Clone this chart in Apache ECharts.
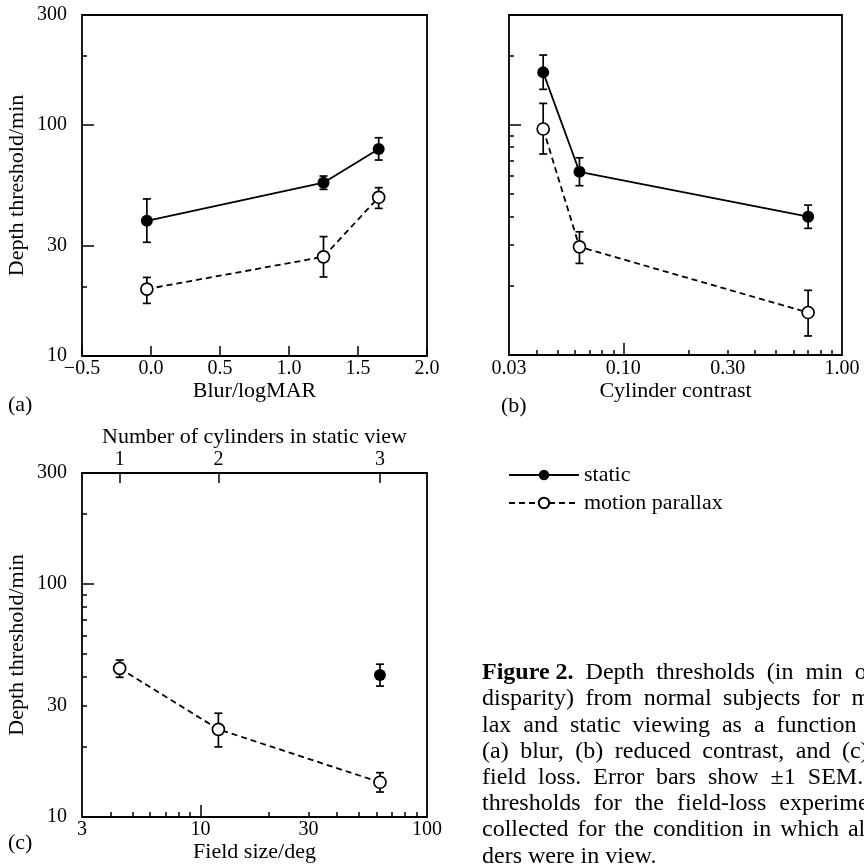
<!DOCTYPE html>
<html>
<head>
<meta charset="utf-8">
<script src="https://cdn.jsdelivr.net/npm/echarts@6/dist/echarts.min.js"></script>
<style>
  html, body { margin: 0; padding: 0; background: #fff; overflow: hidden; }
  #chart { width: 864px; height: 866px; }
</style>
</head>
<body>
<div id="chart"></div>
<script>
// (a) blur
const blurLevels = [-0.03, 1.25, 1.65];
const blurStatic = [38.5, 56.3, 78.8];
const blurStaticLow = [31.1, 52.7, 70.6];
const blurStaticHigh = [47.9, 60.2, 88.2];
const blurMotion = [19.5, 26.9, 48.7];
const blurMotionLow = [16.9, 22.0, 43.6];
const blurMotionHigh = [21.9, 32.9, 53.6];

// (b) contrast
const contrastLevels = [0.043, 0.063, 0.70];
const contrastStatic = [169, 62.5, 39.9];
const contrastStaticLow = [142.6, 54.4, 35.5];
const contrastStaticHigh = [201, 71.9, 44.8];
const contrastMotion = [95.9, 29.5, 15.3];
const contrastMotionLow = [74.7, 25.0, 12.1];
const contrastMotionHigh = [123.9, 34.3, 19.1];

// (c) field loss
const fieldSizes = [4.4, 12, 62];
const cylinderCounts = ['1', '2', '3'];
const fieldMotion = [43.5, 23.8, 14.1];
const fieldMotionLow = [39.8, 20.0, 12.8];
const fieldMotionHigh = [47.2, 27.9, 15.5];
const fieldStaticSizes = [62];
const fieldStatic = [40.7];
const fieldStaticLow = [36.5];
const fieldStaticHigh = [45.3];

// tick labels and tick marks
const thresholdLabels = [10, 30, 100, 300];
const blurMajorTicks = [30, 100];
const blurMinorTicks = [20, 200];
const thresholdMajorTicks = [100];
const thresholdMinorTicks = [20, 30, 40, 50, 60, 70, 80, 90, 200];
const contrastLabels = [0.03, 0.1, 0.3, 1];
const contrastMajorTicks = [0.1];
const contrastMinorTicks = [0.04, 0.05, 0.06, 0.07, 0.08, 0.09, 0.2, 0.3, 0.4, 0.5, 0.6, 0.7, 0.8, 0.9];
const fieldLabels = [3, 10, 30, 100];
const fieldMajorTicks = [10];
const fieldMinorTicks = [4, 5, 6, 7, 8, 9, 20, 30, 40, 50, 60, 70, 80, 90];

// caption, one entry per printed line (the column runs past the page edge)
const captionLines = [
  'Figure\u00a02. Depth thresholds (in min of arc',
  'disparity) from normal subjects for motion paral-',
  'lax and static viewing as a function of',
  '(a) blur, (b) reduced contrast, and (c)',
  'field loss. Error bars show \u00b11 SEM. The',
  'thresholds for the field-loss experiment were',
  'collected for the condition in which all cylin-',
  'ders were in view.'
];
const captionWordGaps = [12, 11.5, 12, 11.5, 12, 13, 9, null];

const font = '"Liberation Serif", "Times New Roman", serif';
const ink = '#000';
const tickText = { color: ink, fontFamily: font, fontSize: 20 };
const nameText = { color: ink, fontFamily: font, fontSize: 22 };
const MAJOR = 12;
const MINOR = 5;

const zip = (xs, ys) => xs.map((x, i) => [x, ys[i]]);
const bars = (xs, lo, hi) => xs.map((x, i) => [x, lo[i], hi[i]]);

const panels = [
  { left: 82, top: 15, width: 345, height: 341 },
  { left: 509, top: 15, width: 333, height: 340 },
  { left: 82, top: 473, width: 345, height: 344 }
];

const tickStyle = (length, values) => ({
  show: true,
  inside: true,
  length,
  customValues: values,
  lineStyle: { color: ink, width: 1.5 }
});

const hiddenLabel = { show: false };
const noLine = { show: false, onZero: false };

const logY = (gridIndex, extra) => Object.assign({
  gridIndex,
  type: 'log',
  logBase: 10,
  min: 10,
  max: 300,
  axisLine: noLine,
  splitLine: { show: false },
  axisLabel: hiddenLabel
}, extra);

const errorBar = (params, api) => {
  const x = api.value(0);
  const lo = api.coord([x, api.value(1)]);
  const hi = api.coord([x, api.value(2)]);
  const cap = 4;
  const style = { stroke: ink, lineWidth: 1.7, fill: null };
  return {
    type: 'group',
    children: [
      { type: 'line', shape: { x1: lo[0], y1: lo[1], x2: hi[0], y2: hi[1] }, style },
      { type: 'line', shape: { x1: lo[0] - cap, y1: lo[1], x2: lo[0] + cap, y2: lo[1] }, style },
      { type: 'line', shape: { x1: hi[0] - cap, y1: hi[1], x2: hi[0] + cap, y2: hi[1] }, style }
    ]
  };
};

const barSeries = (idx, data) => ({
  type: 'custom',
  xAxisIndex: idx,
  yAxisIndex: idx,
  renderItem: errorBar,
  encode: { x: 0, y: [1, 2] },
  data,
  z: 1,
  silent: true
});

const staticSeries = (xIdx, yIdx, data) => ({
  name: 'static',
  type: 'line',
  xAxisIndex: xIdx,
  yAxisIndex: yIdx,
  data,
  symbol: 'circle',
  symbolSize: 12,
  itemStyle: { color: ink },
  lineStyle: { color: ink, width: 1.8 },
  emphasis: { disabled: true },
  z: 3
});

const motionSeries = (xIdx, yIdx, data) => ({
  name: 'motion parallax',
  type: 'line',
  xAxisIndex: xIdx,
  yAxisIndex: yIdx,
  data,
  symbol: 'circle',
  symbolSize: 12,
  itemStyle: { color: '#fff', borderColor: ink, borderWidth: 1.7 },
  lineStyle: { color: ink, width: 1.8, type: [6, 4] },
  emphasis: { disabled: true },
  z: 2
});

const measureCtx = document.createElement('canvas').getContext('2d');
const textWidth = (text, weight) => {
  measureCtx.font = `${weight} 24px "Liberation Serif"`;
  return measureCtx.measureText(text).width;
};

const captionGraphics = () => {
  const out = [];
  captionLines.forEach((line, row) => {
    const gap = captionWordGaps[row];
    let x = 482;
    line.split(' ').forEach((word) => {
      const weight = word.startsWith('Figure') ? 'bold' : 'normal';
      out.push({
        type: 'text',
        x,
        y: 673 + row * 26.2,
        silent: true,
        style: {
          text: word,
          fontFamily: font,
          fontSize: 24,
          fontWeight: weight,
          fill: ink,
          verticalAlign: 'middle'
        }
      });
      x += textWidth(word, weight) + (gap == null ? textWidth(' ', 'normal') : gap);
    });
  });
  return out;
};

const panelLabel = (text, left, top) => ({
  type: 'text',
  left,
  top,
  silent: true,
  style: { text, fontFamily: font, fontSize: 22, fill: ink }
});

const chart = echarts.init(document.getElementById('chart'), null, { renderer: 'canvas' });

chart.setOption({
  animation: false,
  backgroundColor: '#fff',
  grid: [
    ...panels.map((p) => Object.assign({ show: true, borderColor: ink, borderWidth: 1.8, outerBoundsMode: 'none' }, p)),
    ...panels.map((p) => Object.assign({ outerBoundsMode: 'none' }, p))
  ],
  legend: {
    orient: 'vertical',
    left: 508,
    top: 464,
    padding: 0,
    itemWidth: 70,
    itemHeight: 13,
    itemGap: 6,
    selectedMode: false,
    data: ['static', 'motion parallax'],
    textStyle: { color: ink, fontFamily: font, fontSize: 22 }
  },
  xAxis: [
    {
      gridIndex: 0,
      type: 'value',
      min: -0.5,
      max: 2,
      interval: 0.5,
      axisLine: noLine,
      splitLine: { show: false },
      axisTick: { show: true, inside: true, length: 10, lineStyle: { color: ink, width: 1.5 } },
      axisLabel: Object.assign({
        margin: 3,
        formatter: (v) => (v < 0 ? '\u2212' : '') + Math.abs(v).toFixed(1)
      }, tickText),
      name: 'Blur/logMAR',
      nameLocation: 'middle',
      nameGap: 21,
      nameTextStyle: nameText
    },
    {
      gridIndex: 1,
      type: 'log',
      min: 0.03,
      max: 1,
      axisLine: noLine,
      splitLine: { show: false },
      axisTick: tickStyle(MAJOR, contrastMajorTicks),
      axisLabel: Object.assign({
        margin: 4,
        customValues: contrastLabels,
        formatter: (v) => Number(v).toFixed(2)
      }, tickText),
      name: 'Cylinder contrast',
      nameLocation: 'middle',
      nameGap: 20,
      nameTextStyle: nameText
    },
    {
      gridIndex: 2,
      type: 'log',
      min: 3,
      max: 100,
      position: 'bottom',
      axisLine: noLine,
      splitLine: { show: false },
      axisTick: tickStyle(MAJOR, fieldMajorTicks),
      axisLabel: Object.assign({
        margin: 3,
        customValues: fieldLabels,
        formatter: (v) => String(Math.round(v))
      }, tickText),
      name: 'Field size/deg',
      nameLocation: 'middle',
      nameGap: 20,
      nameTextStyle: nameText
    },
    {
      gridIndex: 2,
      type: 'log',
      min: 3,
      max: 100,
      position: 'top',
      axisLine: noLine,
      splitLine: { show: false },
      axisTick: tickStyle(10, fieldSizes),
      axisLabel: Object.assign({
        margin: 3,
        customValues: fieldSizes,
        formatter: (v) => {
          let best = 0;
          fieldSizes.forEach((s, i) => {
            if (Math.abs(s - v) < Math.abs(fieldSizes[best] - v)) best = i;
          });
          return cylinderCounts[best];
        }
      }, tickText),
      name: 'Number of cylinders in static view',
      nameLocation: 'middle',
      nameGap: 25,
      nameTextStyle: nameText
    },
    { gridIndex: 3, type: 'value', min: -0.5, max: 2, show: false, axisLine: noLine },
    {
      gridIndex: 4,
      type: 'log',
      min: 0.03,
      max: 1,
      axisLine: noLine,
      splitLine: { show: false },
      axisTick: tickStyle(MINOR, contrastMinorTicks),
      axisLabel: hiddenLabel
    },
    {
      gridIndex: 5,
      type: 'log',
      min: 3,
      max: 100,
      axisLine: noLine,
      splitLine: { show: false },
      axisTick: tickStyle(MINOR, fieldMinorTicks),
      axisLabel: hiddenLabel
    }
  ],
  yAxis: [
    logY(0, {
      axisTick: tickStyle(MAJOR, blurMajorTicks),
      axisLabel: Object.assign({ margin: 15, customValues: thresholdLabels, formatter: (v) => String(Math.round(v)) }, tickText),
      name: 'Depth threshold/min',
      nameLocation: 'middle',
      nameGap: 54,
      nameTextStyle: nameText
    }),
    logY(1, { axisTick: tickStyle(MAJOR, thresholdMajorTicks) }),
    logY(2, {
      axisTick: tickStyle(MAJOR, thresholdMajorTicks),
      axisLabel: Object.assign({ margin: 15, customValues: thresholdLabels, formatter: (v) => String(Math.round(v)) }, tickText),
      name: 'Depth threshold/min',
      nameLocation: 'middle',
      nameGap: 54,
      nameTextStyle: nameText
    }),
    logY(3, { axisTick: tickStyle(MINOR, blurMinorTicks) }),
    logY(4, { axisTick: tickStyle(MINOR, thresholdMinorTicks) }),
    logY(5, { axisTick: tickStyle(MINOR, thresholdMinorTicks) })
  ],
  series: [
    // (a)
    barSeries(0, bars(blurLevels, blurStaticLow, blurStaticHigh)),
    barSeries(0, bars(blurLevels, blurMotionLow, blurMotionHigh)),
    staticSeries(0, 0, zip(blurLevels, blurStatic)),
    motionSeries(0, 0, zip(blurLevels, blurMotion)),
    // (b)
    barSeries(1, bars(contrastLevels, contrastStaticLow, contrastStaticHigh)),
    barSeries(1, bars(contrastLevels, contrastMotionLow, contrastMotionHigh)),
    staticSeries(1, 1, zip(contrastLevels, contrastStatic)),
    motionSeries(1, 1, zip(contrastLevels, contrastMotion)),
    // (c)
    barSeries(2, bars(fieldSizes, fieldMotionLow, fieldMotionHigh)),
    barSeries(2, bars(fieldStaticSizes, fieldStaticLow, fieldStaticHigh)),
    staticSeries(2, 2, zip(fieldStaticSizes, fieldStatic)),
    motionSeries(2, 2, zip(fieldSizes, fieldMotion))
  ],
  graphic: [
    panelLabel('(a)', 8, 394),
    panelLabel('(b)', 501, 395),
    panelLabel('(c)', 8, 832),
    ...captionGraphics()
  ]
});
</script>
</body>
</html>
